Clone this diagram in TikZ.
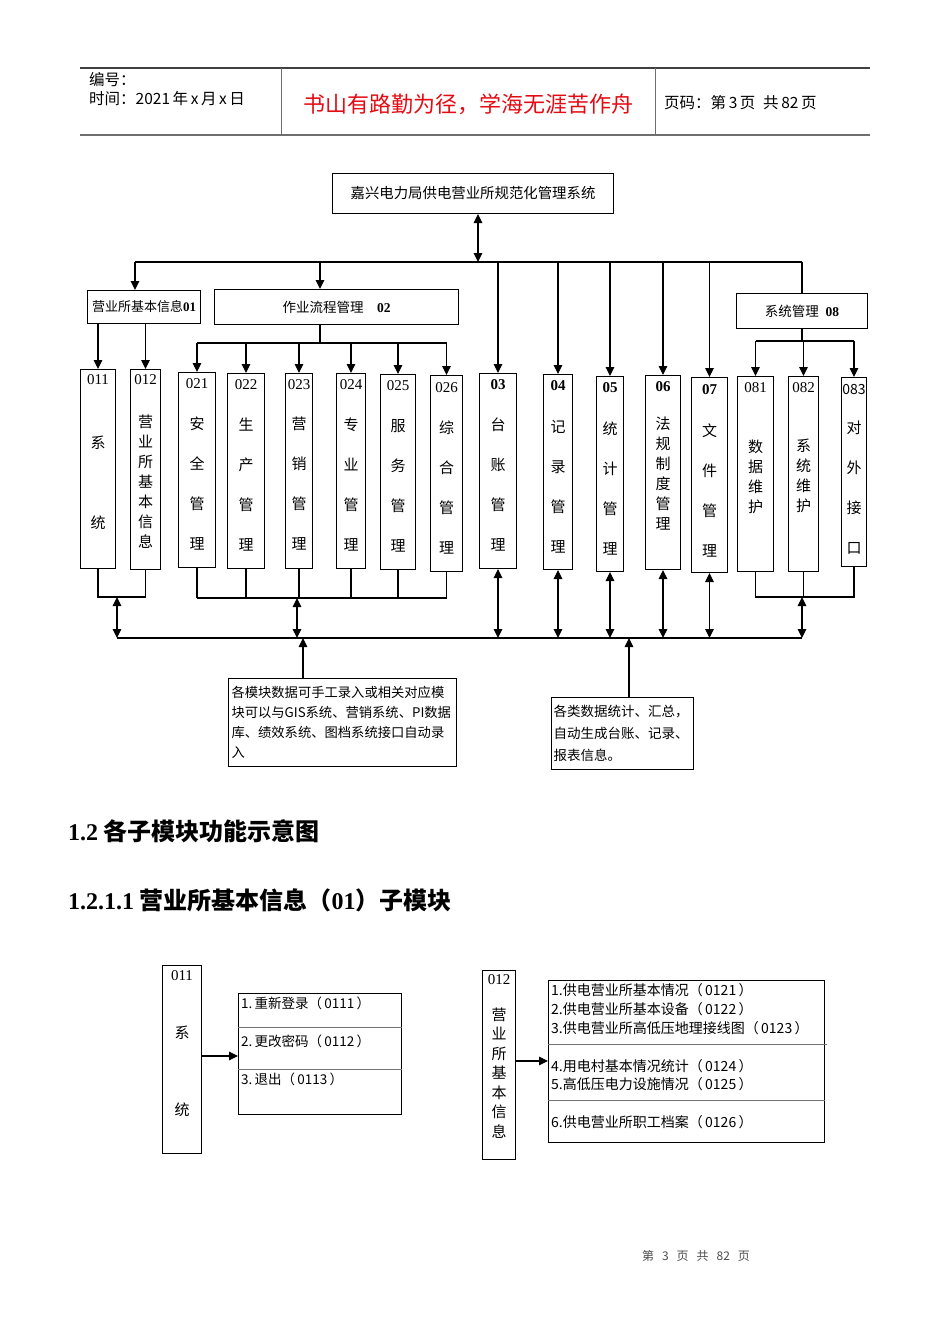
\documentclass[tikz,border=0pt]{standalone}
\usepackage{fontspec}
\setmainfont{Noto Sans CJK SC}
\newfontfamily\codefont{Liberation Serif}
\usetikzlibrary{arrows.meta}
\usetikzlibrary{positioning}
\definecolor{motto}{RGB}{228,12,20}
\definecolor{rulegray}{RGB}{110,110,110}

\tikzset{
  box/.style={draw, line width=1pt, inner sep=0pt, anchor=north west},
  code/.style={font=\codefont\fontsize{15}{15}\selectfont, inner sep=0pt},
  bcode/.style={font=\codefont\bfseries\fontsize{15}{15}\selectfont, inner sep=0pt},
  wide/.style={font=\fontsize{15}{40}\selectfont, align=center, inner sep=0pt},
  tight/.style={font=\fontsize{15}{20}\selectfont, align=center, inner sep=0pt},
  item/.style={anchor=west, inner sep=0pt, xshift=3pt},
  link/.style={line width=1.1pt},
  alink/.style={line width=1.1pt, ->},
  dlink/.style={line width=1.1pt, <->},
  sep/.style={line width=0.8pt, black!55},
}

\begin{document}
\begin{tikzpicture}[x=1pt, y=-1pt, >={Triangle[length=9pt,width=8.5pt]}]
    \fill[white] (0,0) rectangle (950,1344);
    \useasboundingbox (0,0) rectangle (950,1344);
    % header
    \draw[line width=1.2pt, black!75] (80,68) -- (870,68);
    \draw[line width=2pt, rulegray] (80,135) -- (870,135);
    \draw[line width=1pt, rulegray] (281,68) -- (281,135);
    \draw[line width=1pt, rulegray] (655,68) -- (655,135);
    \node[anchor=west, inner sep=0pt, font=\fontsize{15.5}{16}\selectfont] (hnum) at (89,80) {编号：};
    \node[anchor=west, inner sep=0pt, font=\fontsize{15.5}{16}\selectfont] (hdate) at (89,99) {时间：2021\,年\,x\,月\,x\,日};
    \node[font=\fontsize{22}{22}\selectfont, text=motto] (motto) at (468,104) {书山有路勤为径，学海无涯苦作舟};
    \node[anchor=west, inner sep=0pt, font=\fontsize{15.5}{16}\selectfont] (hpage) at (664,103) {页码：第\,3\,页\enspace 共\,82\,页};

    % top of the tree
    \node[box, minimum width=281, minimum height=40, font=\fontsize{14.4}{15}\selectfont] (title) at (332,173) {嘉兴电力局供电营业所规范化管理系统};
    \node[box, minimum width=113, minimum height=33, font=\fontsize{13}{13}\selectfont] (b01) at (87,290) {营业所基本信息{\codefont\bfseries 01}};
    \node[box, minimum width=244, minimum height=35, font=\fontsize{13.5}{14}\selectfont] (b02) at (214,289) {作业流程管理\quad{\codefont\bfseries 02}};
    \node[box, minimum width=131, minimum height=35, font=\fontsize{13.5}{14}\selectfont] (b08) at (736,293) {系统管理\enspace{\codefont\bfseries 08}};

    % leaf boxes
    \node[box, minimum width=35, minimum height=199] (b011) at (80,369) {};
    \node[box, minimum width=30, minimum height=200] (b012) at (130,369) {};
    \node[box, minimum width=37, minimum height=195] (b021) at (178,372) {};
    \node[box, minimum width=37, minimum height=195] (b022) at (227,373) {};
    \node[box, minimum width=27, minimum height=195] (b023) at (285,373) {};
    \node[box, minimum width=29, minimum height=195] (b024) at (336,373) {};
    \node[box, minimum width=35, minimum height=195] (b025) at (380,374) {};
    \node[box, minimum width=32, minimum height=196] (b026) at (430,375) {};
    \node[box, minimum width=37, minimum height=195] (b03) at (479,373) {};
    \node[box, minimum width=29, minimum height=195] (b04) at (543,374) {};
    \node[box, minimum width=27, minimum height=195] (b05) at (596,376) {};
    \node[box, minimum width=35, minimum height=194] (b06) at (645,375) {};
    \node[box, minimum width=36, minimum height=195] (b07) at (691,377) {};
    \node[box, minimum width=36, minimum height=195] (b081) at (737,376) {};
    \node[box, minimum width=30, minimum height=195] (b082) at (788,376) {};
    \node[box, minimum width=25, minimum height=189] (b083) at (841,377) {};

    % codes
    \node[code, below=5pt of b011.north] {011};
    \node[code, below=5pt of b012.north] {012};
    \node[code, below=6pt of b021.north] {021};
    \node[code, below=6pt of b022.north] {022};
    \node[code, below=6pt of b023.north] {023};
    \node[code, below=6pt of b024.north] {024};
    \node[code, below=6pt of b025.north] {025};
    \node[code, below=7pt of b026.north] {026};
    \node[bcode, below=6pt of b03.north] {03};
    \node[bcode, below=6pt of b04.north] {04};
    \node[bcode, below=6pt of b05.north] {05};
    \node[bcode, below=6pt of b06.north] {06};
    \node[bcode, below=7pt of b07.north] {07};
    \node[code, below=6pt of b081.north] {081};
    \node[code, below=6pt of b082.north] {082};
    \node[code, font=\fontsize{14}{14}\selectfont, below=7pt of b083.north] {083};

    % vertical labels
    \node[wide, font=\fontsize{15}{80}\selectfont] at (b011.north |- 0,483) {系\\统};
    \node[tight] at (b012.north |- 0,482) {营\\业\\所\\基\\本\\信\\息};
    \node[wide] at (b021.north |- 0,484) {安\\全\\管\\理};
    \node[wide] at (b022.north |- 0,485) {生\\产\\管\\理};
    \node[wide] at (b023.north |- 0,484) {营\\销\\管\\理};
    \node[wide] at (b024.north |- 0,485) {专\\业\\管\\理};
    \node[wide] at (b025.north |- 0,486) {服\\务\\管\\理};
    \node[wide] at (b026.north |- 0,488) {综\\合\\管\\理};
    \node[wide] at (b03.north |- 0,485) {台\\账\\管\\理};
    \node[wide] at (b04.north |- 0,487) {记\\录\\管\\理};
    \node[wide] at (b05.north |- 0,489) {统\\计\\管\\理};
    \node[tight] at (b06.north |- 0,474) {法\\规\\制\\度\\管\\理};
    \node[wide] at (b07.north |- 0,490) {文\\件\\管\\理};
    \node[tight] at (b081.north |- 0,477) {数\\据\\维\\护};
    \node[tight] at (b082.north |- 0,476) {系\\统\\维\\护};
    \node[wide] at (b083.north |- 0,488) {对\\外\\接\\口};

    % links from the title
    \coordinate (tap) at (478,262);
    \coordinate (busL) at (135,262);
    \coordinate (busR) at (802,262);
    \coordinate (s02) at (320,343);
    \coordinate (s08) at (802,341);
    \draw[dlink] (tap |- title.south) -- (tap);
    \draw[link] (busL) -- (busR);
    \draw[alink] (busL) -- (busL |- b01.north);
    \draw[alink] (s02 |- busL) -- (s02 |- b02.north);
    \draw[alink] (b03.north |- busL) -- (b03.north);
    \draw[alink] (b04.north |- busL) -- (b04.north);
    \draw[alink] (b05.north |- busL) -- (b05.north);
    \draw[alink] (b06.north |- busL) -- (b06.north);
    \draw[alink] (b07.north |- busL) -- (b07.north);
    \draw[link] (busR) -- (busR |- b08.north);
    % 01
    \draw[alink] (b011.north |- b01.south) -- (b011.north);
    \draw[alink] (b012.north |- b01.south) -- (b012.north);
    % 02
    \draw[link] (s02 |- b02.south) -- (s02);
    \draw[link] (b021.north |- s02) -- (b026.north |- s02);
    \draw[alink] (b021.north |- s02) -- (b021.north);
    \draw[alink] (b022.north |- s02) -- (b022.north);
    \draw[alink] (b023.north |- s02) -- (b023.north);
    \draw[alink] (b024.north |- s02) -- (b024.north);
    \draw[alink] (b025.north |- s02) -- (b025.north);
    \draw[alink] (b026.north |- s02) -- (b026.north);
    % 08
    \draw[link] (s08 |- b08.south) -- (s08);
    \draw[link] (b081.north |- s08) -- (b083.north |- s08);
    \draw[alink] (b081.north |- s08) -- (b081.north);
    \draw[alink] (b082.north |- s08) -- (b082.north);
    \draw[alink] (b083.north |- s08) -- (b083.north);

    % data bus
    \coordinate (g01) at (117,597);
    \coordinate (g02) at (297,598);
    \coordinate (g08) at (802,597);
    \coordinate (mainL) at (117,638);
    \coordinate (mainR) at (802,638);
    \draw[link] (mainL) -- (mainR);
    \draw[link] (b011.south) |- (b012.south |- g01) -- (b012.south);
    \draw[dlink] (g01) -- (mainL);
    \draw[link] (b021.south |- g02) -- (b026.south |- g02);
    \draw[link] (b021.south) -- (b021.south |- g02);
    \draw[link] (b022.south) -- (b022.south |- g02);
    \draw[link] (b023.south) -- (b023.south |- g02);
    \draw[link] (b024.south) -- (b024.south |- g02);
    \draw[link] (b025.south) -- (b025.south |- g02);
    \draw[link] (b026.south) -- (b026.south |- g02);
    \draw[dlink] (g02) -- (g02 |- mainL);
    \draw[dlink] (b03.south) -- (b03.south |- mainL);
    \draw[dlink] (b04.south) -- (b04.south |- mainL);
    \draw[dlink] (b05.south) -- (b05.south |- mainL);
    \draw[dlink] (b06.south) -- (b06.south |- mainL);
    \draw[dlink] (b07.south) -- (b07.south |- mainL);
    \draw[link] (b081.south) |- (b083.south |- g08) -- (b083.south);
    \draw[link] (b082.south) -- (b082.south |- g08);
    \draw[dlink] (g08) -- (mainR);

    % notes
    \node[box, minimum width=228, minimum height=88, text width=222, inner xsep=3pt, align=left, font=\fontsize{13.3}{20}\selectfont] (note1) at (228,678) {各模块数据可手工录入或相关对应模\\块可以与GIS系统、营销系统、PI数据\\库、绩效系统、图档系统接口自动录\\入};
    \node[box, minimum width=142, minimum height=72, text width=138, inner xsep=2pt, align=left, font=\fontsize{13.5}{22}\selectfont] (note2) at (551,697) {各类数据统计、汇总，\\自动生成台账、记录、\\报表信息。};
    \coordinate (in1) at (303,638);
    \coordinate (in2) at (629,638);
    \draw[alink] (in1 |- note1.north) -- (in1);
    \draw[alink] (in2 |- note2.north) -- (in2);

    % headings
    \node[anchor=west, inner sep=0pt, font=\bfseries\fontsize{24}{24}\selectfont] (h12) at (68,831) {{\codefont 1.2} 各子模块功能示意图};
    \node[anchor=west, inner sep=0pt, font=\bfseries\fontsize{24}{24}\selectfont] (h1211) at (68,900) {{\codefont 1.2.1.1} 营业所基本信息（{\codefont 01}）子模块};

    % 011 sub module
    \node[box, minimum width=39, minimum height=188] (c011) at (162,965) {};
    \node[code, below=5pt of c011.north] {011};
    \node[wide, font=\fontsize{15}{77}\selectfont] at (c011.north |- 0,1071) {系\\统};
    \node[box, minimum width=163, minimum height=121] (l011) at (238,993) {};
    \draw[sep] (l011.west |- 0,1027) -- (l011.east |- 0,1027);
    \draw[sep] (l011.west |- 0,1069) -- (l011.east |- 0,1069);
    \begin{scope}[every node/.style={item, font=\fontsize{13.5}{14}\selectfont}]
    \node at (l011.west |- 0,1003) {1.\,重新登录（\,0111\,）};
    \node at (l011.west |- 0,1041) {2.\,更改密码（\,0112\,）};
    \node at (l011.west |- 0,1079) {3.\,退出（\,0113\,）};
    \end{scope}
    \draw[alink] (c011.east |- 0,1056) -- (l011.west |- 0,1056);

    % 012 sub module
    \node[box, minimum width=33, minimum height=189] (c012) at (482,970) {};
    \node[code, below=4pt of c012.north] {012};
    \node[tight, font=\fontsize{15}{19.5}\selectfont] at (c012.north |- 0,1073) {营\\业\\所\\基\\本\\信\\息};
    \node[box, minimum width=276, minimum height=162] (l012) at (548,980) {};
    \draw[sep] (l012.west |- 0,1044) -- (827,1044);
    \draw[sep] (l012.west |- 0,1100) -- (l012.east |- 0,1100);
    \begin{scope}[every node/.style={item, font=\fontsize{14}{14}\selectfont}]
    \node at (l012.west |- 0,990) {1.供电营业所基本情况（\,0121\,）};
    \node at (l012.west |- 0,1009) {2.供电营业所基本设备（\,0122\,）};
    \node at (l012.west |- 0,1028) {3.供电营业所高低压地理接线图（\,0123\,）};
    \node at (l012.west |- 0,1066) {4.用电村基本情况统计（\,0124\,）};
    \node at (l012.west |- 0,1084) {5.高低压电力设施情况（\,0125\,）};
    \node at (l012.west |- 0,1122) {6.供电营业所职工档案（\,0126\,）};
    \end{scope}
    \draw[alink] (c012.east |- 0,1061) -- (l012.west |- 0,1061);

    % footer
    \node[font=\fontsize{12}{12}\selectfont, text=black!70] (foot) at (696,1256) {第\hspace{8pt}3\hspace{8pt}页\hspace{8pt}共\hspace{8pt}82\hspace{8pt}页};
\end{tikzpicture}
\end{document}
